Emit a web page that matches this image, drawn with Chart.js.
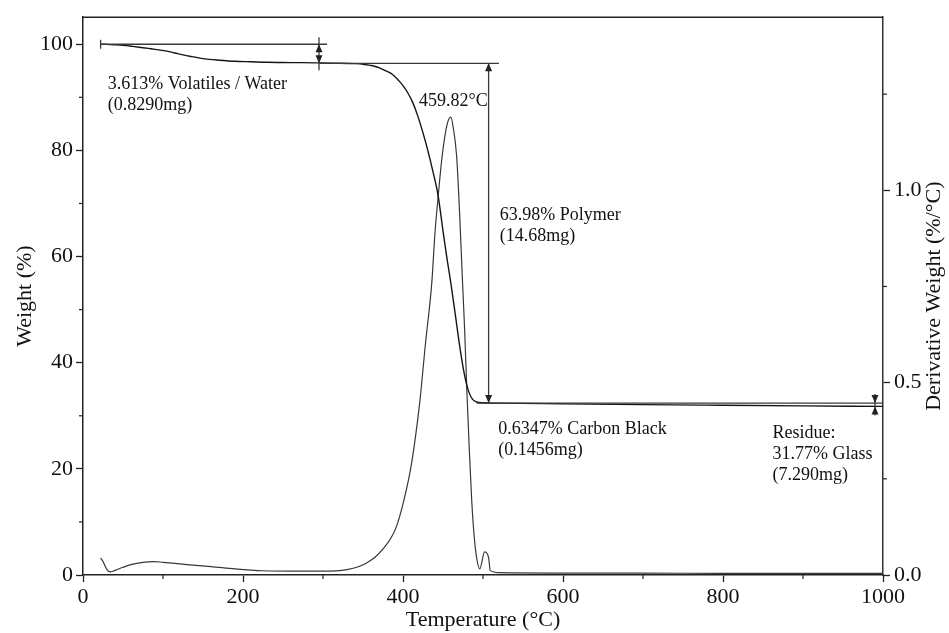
<!DOCTYPE html>
<html><head><meta charset="utf-8">
<script src="https://cdn.jsdelivr.net/npm/chart.js@4"></script>
<style>html,body{margin:0;padding:0;background:#fff;}canvas{display:block;}</style>
</head><body>
<canvas id="c" width="949" height="633"></canvas>
<script>
// ---- data ----
const weightTemps  = [22, 30, 40, 50, 62, 75, 85, 95, 105, 115, 125, 135, 146, 158, 170, 190, 210, 230, 260, 292, 315, 340, 352, 362, 370, 377, 384, 390, 395, 400, 405, 412, 418, 425, 431, 437, 444, 450, 455, 459.8, 465, 471, 477, 482, 487, 492, 500, 520, 600, 700, 800, 900, 1000];
const weightValues = [100, 99.98, 99.9, 99.8, 99.6, 99.35, 99.15, 98.95, 98.7, 98.35, 98.0, 97.7, 97.4, 97.15, 97.0, 96.8, 96.7, 96.6, 96.55, 96.5, 96.45, 96.35, 96.2, 95.95, 95.6, 95.1, 94.6, 93.9, 93.1, 92.2, 91.1, 89.1, 86.7, 83.3, 80.0, 76.3, 71.4, 64.8, 59.6, 55.0, 49.5, 43.0, 37.6, 34.6, 33.1, 32.6, 32.45, 32.38, 32.25, 32.1, 31.98, 31.87, 31.77];

const derivTemps  = [22, 25, 30, 34, 40, 50, 60, 75, 88, 100, 130, 160, 190, 225, 260, 300, 330, 345, 355, 365, 375, 385, 392, 400, 409, 415, 421, 428, 436, 440, 444, 449, 455, 459.82, 463, 467, 471, 474, 477, 480, 483, 486, 489, 492, 496, 502, 507, 509, 520, 600, 700, 800, 900, 1000];
const derivValues = [0.044, 0.035, 0.014, 0.008, 0.012, 0.02, 0.027, 0.033, 0.035, 0.033, 0.027, 0.022, 0.016, 0.011, 0.010, 0.010, 0.014, 0.022, 0.032, 0.046, 0.068, 0.096, 0.127, 0.185, 0.27, 0.35, 0.45, 0.6, 0.76, 0.89, 0.985, 1.09, 1.17, 1.19, 1.16, 1.09, 0.93, 0.78, 0.64, 0.47, 0.32, 0.19, 0.1, 0.045, 0.016, 0.06, 0.045, 0.012, 0.006, 0.005, 0.005, 0.004, 0.004, 0.004];

const xMajorTicks  = [0, 200, 400, 600, 800, 1000];
const xMinorTicks  = [100, 300, 500, 700, 900];
const yMajorTicks  = [0, 20, 40, 60, 80, 100];
const yMinorTicks  = [10, 30, 50, 70, 90];
const y2MajorTicks = [0, 0.5, 1.0];
const y2MinorTicks = [0.25, 0.75, 1.25];

// step annotation values (temperature °C, weight %)
const startWeight = 100, afterVolatiles = 96.4, afterPolymer = 32.4, residue = 31.77;
const volatilesEndT = 295, polymerArrowT = 507, residueMarkT = 990, startT = 22;

const notes = [
  {t: 31,  w: 92.5, align: 'left',  lines: ['3.613% Volatiles / Water', '(0.8290mg)']},
  {t: 506, w: 89.2, align: 'right', lines: ['459.82°C']},
  {t: 521, w: 67.7, align: 'left',  lines: ['63.98% Polymer', '(14.68mg)']},
  {t: 519, w: 27.5, align: 'left',  lines: ['0.6347% Carbon Black', '(0.1456mg)']},
  {t: 862, w: 26.7, align: 'left',  lines: ['Residue:', '31.77% Glass', '(7.290mg)']}
];

const FONT = "'Liberation Serif', 'DejaVu Serif', serif";
Chart.defaults.font.family = FONT;
Chart.defaults.color = '#111';

const isIn = (arr, v) => arr.some(a => Math.abs(a - v) < 1e-6);

const annot = {
  id: 'annot',
  afterDatasetsDraw(chart) {
    const {ctx, chartArea: a, scales: {x, y, y2}} = chart;
    const X = v => x.getPixelForValue(v), Y = v => y.getPixelForValue(v);
    const line = (x1, y1, x2, y2p) => { ctx.beginPath(); ctx.moveTo(x1, y1); ctx.lineTo(x2, y2p); ctx.stroke(); };
    const arrow = (px, py, dir) => { // dir -1 tip up, +1 tip down
      ctx.beginPath(); ctx.moveTo(px, py); ctx.lineTo(px - 3.5, py - dir * 8); ctx.lineTo(px + 3.5, py - dir * 8); ctx.closePath(); ctx.fill();
    };
    ctx.save();
    ctx.strokeStyle = '#222'; ctx.lineWidth = 1.5;
    line(a.left, a.top, a.right, a.top);
    // minor ticks
    ctx.lineWidth = 1.2;
    yMinorTicks.forEach(v => line(a.left, Y(v), a.left - 4, Y(v)));
    xMinorTicks.forEach(v => line(X(v), a.bottom, X(v), a.bottom + 4));
    y2MinorTicks.forEach(v => line(a.right, y2.getPixelForValue(v), a.right + 4, y2.getPixelForValue(v)));

    // step annotations
    ctx.strokeStyle = '#3a3a3a'; ctx.fillStyle = '#222'; ctx.lineWidth = 1.3;
    line(X(startT), Y(startWeight), X(305), Y(startWeight));
    line(X(startT), Y(startWeight) - 4.5, X(startT), Y(startWeight) + 4.5);
    line(X(volatilesEndT), Y(startWeight) - 7, X(volatilesEndT), Y(afterVolatiles) + 7);
    arrow(X(volatilesEndT), Y(startWeight), -1);
    arrow(X(volatilesEndT), Y(afterVolatiles), 1);
    line(X(volatilesEndT), Y(afterVolatiles), X(520), Y(afterVolatiles));
    line(X(polymerArrowT), Y(afterVolatiles), X(polymerArrowT), Y(afterPolymer));
    arrow(X(polymerArrowT), Y(afterVolatiles), -1);
    arrow(X(polymerArrowT), Y(afterPolymer), 1);
    line(X(492), Y(afterPolymer), X(1000), Y(afterPolymer));
    line(X(residueMarkT), Y(afterPolymer) - 9, X(residueMarkT), Y(residue) + 9);
    arrow(X(residueMarkT), Y(afterPolymer), 1);
    arrow(X(residueMarkT), Y(residue), -1);

    // texts
    ctx.fillStyle = '#111';
    ctx.font = '18px ' + FONT;
    ctx.textBaseline = 'middle';
    notes.forEach(n => {
      ctx.textAlign = n.align;
      n.lines.forEach((s, i) => ctx.fillText(s, X(n.t), Y(n.w) + i * 21));
    });
    // right axis title (reads bottom to top)
    ctx.font = '22px ' + FONT;
    ctx.textAlign = 'center';
    ctx.translate(934, (a.top + a.bottom) / 2);
    ctx.rotate(-Math.PI / 2);
    ctx.fillText('Derivative Weight (%/°C)', 0, 0);
    ctx.restore();
  }
};

const tickColor = majors => c => (c.tick && isIn(majors, c.tick.value)) ? '#222' : 'rgba(0,0,0,0)';

new Chart(document.getElementById('c'), {
  type: 'line',
  data: {
    datasets: [
      {label: 'Weight (%)', data: weightTemps.map((t, i) => ({x: t, y: weightValues[i]})), yAxisID: 'y',
       borderColor: '#141414', borderWidth: 1.4, pointRadius: 0, fill: false, cubicInterpolationMode: 'monotone'},
      {label: 'Derivative Weight (%/°C)', data: derivTemps.map((t, i) => ({x: t, y: derivValues[i]})), yAxisID: 'y2',
       borderColor: '#383838', borderWidth: 1.2, pointRadius: 0, fill: false, cubicInterpolationMode: 'monotone'}
    ]
  },
  options: {
    responsive: false, animation: false, devicePixelRatio: 1,
    layout: {padding: {top: 12, left: 0, right: 0, bottom: 0}},
    plugins: {legend: {display: false}, tooltip: {enabled: false}},
    scales: {
      x: {
        type: 'linear', min: 0, max: 1000,
        afterFit(s) { s.height = 58; },
        ticks: {stepSize: 100, includeBounds: false, autoSkip: false, maxRotation: 0, padding: 2,
                font: {size: 22}, color: '#111', callback: v => isIn(xMajorTicks, v) ? String(v) : ''},
        grid: {drawOnChartArea: false, tickLength: 7, tickWidth: 1.3, tickColor: tickColor(xMajorTicks)},
        border: {display: true, color: '#222', width: 1.5},
        title: {display: true, text: 'Temperature (°C)', font: {size: 22}, color: '#111', padding: {top: 0, bottom: 0}}
      },
      y: {
        position: 'left', min: 0, max: 105.1,
        afterFit(s) { s.width = 83; },
        ticks: {stepSize: 10, includeBounds: false, autoSkip: false, padding: 3,
                font: {size: 22}, color: '#111', callback: v => isIn(yMajorTicks, v) ? String(v) : ''},
        grid: {drawOnChartArea: false, tickLength: 7, tickWidth: 1.3, tickColor: tickColor(yMajorTicks)},
        border: {display: true, color: '#222', width: 1.5},
        title: {display: true, text: 'Weight (%)', font: {size: 22}, color: '#111', padding: {top: 12, bottom: 0}}
      },
      y2: {
        position: 'right', min: 0, max: 1.45,
        afterFit(s) { s.width = 66; },
        ticks: {stepSize: 0.25, includeBounds: false, autoSkip: false, padding: 4,
                font: {size: 22}, color: '#111', callback: v => isIn(y2MajorTicks, v) ? v.toFixed(1) : ''},
        grid: {drawOnChartArea: false, tickLength: 7, tickWidth: 1.3, tickColor: tickColor(y2MajorTicks)},
        border: {display: true, color: '#333', width: 1.5},
        title: {display: false}
      }
    }
  },
  plugins: [annot]
});
</script>
</body></html>
